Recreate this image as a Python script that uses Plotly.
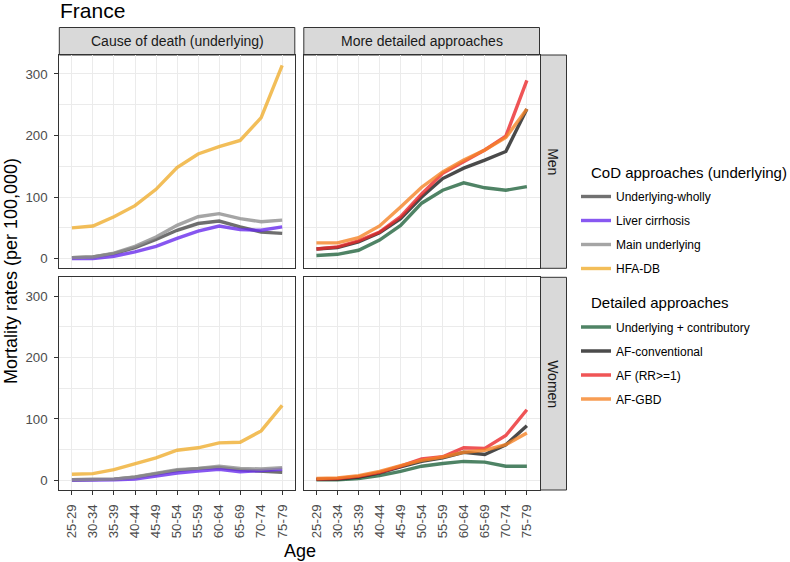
import plotly.graph_objects as go

ages = ["25-29", "30-34", "35-39", "40-44", "45-49", "50-54", "55-59", "60-64", "65-69", "70-74", "75-79"]

# Men - CoD underlying approaches
men_underlying_wholly = [1.6, 2.6, 8, 18, 31, 46, 57, 61, 51.5, 43, 41]
men_liver_cirrhosis = [0, 0, 3.8, 11, 20, 33, 44.5, 53, 47, 46, 51.5]
men_main_underlying = [1.6, 2.6, 9, 20, 35, 54, 68, 73, 65, 60, 62.5]
men_hfa_db = [50, 53, 68, 86, 112.5, 148, 170, 182, 192, 229, 314]
# Men - detailed approaches
men_und_contrib = [5, 7, 13.5, 30, 54, 90, 111, 123, 115, 111, 117]
men_af_conv = [15.7, 18, 27, 42, 65, 100, 130, 147, 160, 174, 243]
men_af_rr = [15.7, 19, 28.7, 43, 68, 105, 138.6, 157.5, 176.5, 199, 289.6]
men_af_gbd = [25.5, 25.5, 34, 53, 84, 116, 141, 160, 176.5, 196.6, 243]

# Women - CoD underlying approaches
women_underlying_wholly = [1, 1, 2, 5, 10, 16, 19, 21, 17, 15, 13]
women_liver_cirrhosis = [0, 0, 1, 2, 7, 12, 15, 18, 14, 16, 18]
women_main_underlying = [1, 1, 2, 5.5, 11, 17.5, 19.5, 23, 19.5, 18.5, 20.7]
women_hfa_db = [9.8, 10.9, 17.4, 26.7, 36.5, 49, 53, 61, 62, 80.5, 122]
# Women - detailed approaches
women_und_contrib = [1, 1, 3, 7.7, 14.7, 23, 27.5, 30.8, 29.7, 23, 23]
women_af_conv = [2, 2, 5.5, 12, 22, 31, 36.5, 45.7, 42, 58, 89]
women_af_rr = [2, 3, 6.5, 13, 23, 35, 38.5, 53, 52, 73, 115]
women_af_gbd = [3, 4, 7.7, 14.7, 24, 32.6, 38, 45.7, 49, 58, 77]

cod_names = ["Underlying-wholly", "Liver cirrhosis", "Main underlying", "HFA-DB"]
det_names = ["Underlying + contributory", "AF-conventional", "AF (RR>=1)", "AF-GBD"]
cod_colors = ["#4D4D4D", "#6A2EEE", "#8F8F8F", "#F0AE30"]
det_colors = ["#23653F", "#1E1E1E", "#EC2A2C", "#F68428"]

men_cod = [men_underlying_wholly, men_liver_cirrhosis, men_main_underlying, men_hfa_db]
men_det = [men_und_contrib, men_af_conv, men_af_rr, men_af_gbd]
women_cod = [women_underlying_wholly, women_liver_cirrhosis, women_main_underlying, women_hfa_db]
women_det = [women_und_contrib, women_af_conv, women_af_rr, women_af_gbd]

FONT = "Liberation Sans, Arial, sans-serif"
fig = go.Figure()

def add_lines(series, names, colors, xa, ya, show, legend):
    for i, (vals, name, col) in enumerate(zip(series, names, colors)):
        fig.add_trace(go.Scatter(
            x=ages, y=vals, mode="lines", name=name,
            line=dict(color=col, width=3.4), opacity=0.8,
            xaxis=xa, yaxis=ya, showlegend=show, legend=legend,
            legendgroup=legend + str(i), hoverinfo="x+y+name"))

add_lines(men_cod, cod_names, cod_colors, "x", "y", True, "legend")
add_lines(men_det, det_names, det_colors, "x2", "y2", True, "legend2")
add_lines(women_cod, cod_names, cod_colors, "x3", "y3", False, "legend")
add_lines(women_det, det_names, det_colors, "x4", "y4", False, "legend2")

W, H = 790, 562
xl = [59.3 / W, 294.8 / W]
xr = [303.8 / W, 539.5 / W]
yt = [1 - 268.3 / H, 1 - 55 / H]
yb = [1 - 490 / H, 1 - 277.3 / H]

grid = "#EBEBEB"
tickfont = dict(family=FONT, size=13.3, color="#4D4D4D")
common_x = dict(type="category", range=[-0.6, 10.6], showgrid=True, gridcolor=grid, gridwidth=1,
                showline=True, mirror=True, linecolor="#333333", linewidth=1, zeroline=False,
                tickfont=tickfont, tickangle=-90,
                categoryorder="array", categoryarray=ages)
common_y = dict(range=[-15.75, 330.75], tick0=0, dtick=100, showgrid=True, gridcolor=grid, gridwidth=1,
                minor=dict(tick0=0, dtick=50, showgrid=True, gridcolor=grid, gridwidth=0.6),
                showline=True, mirror=True, linecolor="#333333", linewidth=1, zeroline=False,
                tickfont=tickfont)

fig.update_layout(
    xaxis=dict(common_x, domain=xl, anchor="y", showticklabels=False, ticks=""),
    xaxis2=dict(common_x, domain=xr, anchor="y2", showticklabels=False, ticks=""),
    xaxis3=dict(common_x, domain=xl, anchor="y3", ticks="outside", ticklen=4, tickcolor="#333333",
                ticklabelstandoff=4),
    xaxis4=dict(common_x, domain=xr, anchor="y4", ticks="outside", ticklen=4, tickcolor="#333333",
                ticklabelstandoff=4),
    yaxis=dict(common_y, domain=yt, anchor="x", ticks="outside", ticklen=4, tickcolor="#333333",
               ticklabelstandoff=4),
    yaxis2=dict(common_y, domain=yt, anchor="x2", showticklabels=False, ticks=""),
    yaxis3=dict(common_y, domain=yb, anchor="x3", ticks="outside", ticklen=4, tickcolor="#333333",
                ticklabelstandoff=4),
    yaxis4=dict(common_y, domain=yb, anchor="x4", showticklabels=False, ticks=""),
)

shapes = []
annotations = []
strip_fill = "#D9D9D9"
# top strips
for (x0, x1), txt in zip([xl, xr], ["Cause of death (underlying)", "More detailed approaches"]):
    shapes.append(dict(type="rect", xref="paper", yref="paper", x0=x0, x1=x1,
                       y0=1 - 55 / H, y1=1 - 27.5 / H, fillcolor=strip_fill,
                       line=dict(color="#333333", width=1), layer="below"))
    annotations.append(dict(text=txt, xref="paper", yref="paper", x=(x0 + x1) / 2,
                            y=1 - 41.3 / H, showarrow=False, xanchor="center", yanchor="middle",
                            font=dict(family=FONT, size=14, color="#1A1A1A")))
# right strips
for (y0, y1), txt in zip([yt, yb], ["Men", "Women"]):
    shapes.append(dict(type="rect", xref="paper", yref="paper", x0=540.5 / W, x1=566.5 / W,
                       y0=y0, y1=y1, fillcolor=strip_fill,
                       line=dict(color="#333333", width=1), layer="below"))
    annotations.append(dict(text=txt, xref="paper", yref="paper", x=553.5 / W,
                            y=(y0 + y1) / 2, showarrow=False, textangle=90,
                            xanchor="center", yanchor="middle",
                            font=dict(family=FONT, size=14, color="#1A1A1A")))

annotations.append(dict(text="Mortality rates (per 100,000)", xref="paper", yref="paper",
                        x=11 / W, y=1 - 271 / H, textangle=-90, showarrow=False,
                        xanchor="center", yanchor="middle",
                        font=dict(family=FONT, size=18, color="#000000")))
annotations.append(dict(text="Age", xref="paper", yref="paper",
                        x=299.5 / W, y=1 - 551 / H, showarrow=False,
                        xanchor="center", yanchor="middle",
                        font=dict(family=FONT, size=18, color="#000000")))
annotations.append(dict(text="France", xref="paper", yref="paper",
                        x=58 / W, y=1 - 10.5 / H, showarrow=False,
                        xanchor="left", yanchor="middle",
                        font=dict(family=FONT, size=21, color="#000000")))
# legend titles
for txt, yy in [("CoD approaches (underlying)", 172), ("Detailed approaches", 302)]:
    annotations.append(dict(text=txt, xref="paper", yref="paper",
                            x=589 / W, y=1 - yy / H, showarrow=False,
                            xanchor="left", yanchor="middle",
                            font=dict(family=FONT, size=15, color="#000000")))

leg_common = dict(xref="paper", yref="paper", xanchor="left", yanchor="top",
                  bgcolor="rgba(0,0,0,0)", tracegroupgap=5, itemwidth=30,
                  font=dict(family=FONT, size=12, color="#000000"), traceorder="grouped")

fig.update_layout(
    width=W, height=H, margin=dict(l=0, r=0, t=0, b=0),
    plot_bgcolor="white", paper_bgcolor="white",
    font=dict(family=FONT),
    shapes=shapes, annotations=annotations,
    legend=dict(leg_common, x=576 / W, y=1 - 182 / H),
    legend2=dict(leg_common, x=576 / W, y=1 - 312.5 / H),
)

fig.write_html("out.html", config={"displayModeBar": False},
               post_script="document.body.style.margin='0';document.body.style.padding='0';")
